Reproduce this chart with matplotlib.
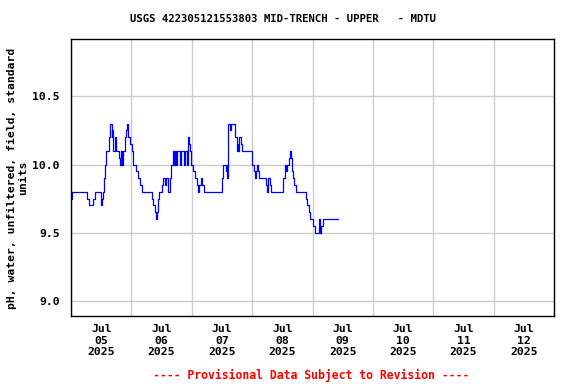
import datetime as dt
import matplotlib
matplotlib.use('Agg')
import matplotlib.pyplot as plt
import matplotlib.dates as mdates
from matplotlib.ticker import FixedLocator, FormatStrFormatter

# Readings (hours after 2025-07-05 00:00, pH value), stepped series
hours = [0.0, 0.4, 6.5, 7.3, 8.9, 9.4, 11.8, 12.2, 12.6, 13.0, 13.3, 13.6, 13.9,
         15.2, 15.5, 16.1, 16.4, 16.8, 17.5, 17.9, 19.2, 19.5, 20.0, 20.4, 20.8,
         21.3, 21.8, 22.3, 22.8, 23.6, 24.1, 24.8, 25.8, 26.5, 27.4, 28.1, 32.1,
         32.7, 33.2, 33.6, 34.0, 34.4, 34.7, 35.0, 36.0, 36.5, 37.5, 37.8, 38.5,
         39.2, 39.6, 40.5, 40.9, 41.3, 41.6, 42.0, 43.4, 43.9, 44.8, 45.4, 46.0,
         46.4, 47.0, 47.3, 47.9, 48.6, 49.2, 49.9, 50.5, 50.9, 51.5, 52.2, 52.7,
         59.9, 60.3, 61.5, 61.9, 62.1, 62.3, 62.5, 63.3, 63.6, 64.0, 65.2, 65.8,
         66.2, 66.5, 66.9, 67.5, 68.1, 72.0, 72.6, 73.1, 73.5, 73.9, 74.3, 74.8,
         77.7, 78.0, 78.3, 79.1, 79.6, 84.1, 84.4, 85.0, 85.5, 86.0, 86.6, 87.0,
         87.3, 87.7, 88.1, 88.8, 89.4, 93.4, 94.0, 94.8, 95.0, 96.3, 96.8, 98.4,
         98.8, 99.4, 100.1, 106.2]
ph = [9.75, 9.8, 9.75, 9.7, 9.75, 9.8, 9.7, 9.75, 9.8, 9.85, 9.9, 10.0, 10.1,
      10.2, 10.3, 10.2, 10.25, 10.1, 10.2, 10.1, 10.05, 10.0, 10.1, 10.0, 10.1,
      10.2, 10.25, 10.3, 10.2, 10.15, 10.1, 10.0, 9.95, 9.9, 9.85, 9.8, 9.75,
      9.7, 9.65, 9.6, 9.65, 9.7, 9.75, 9.8, 9.85, 9.9, 9.85, 9.9, 9.8,
      9.9, 10.0, 10.1, 10.0, 10.1, 10.0, 10.1, 10.0, 10.1, 10.0, 10.1, 10.0,
      10.2, 10.15, 10.1, 10.0, 9.95, 9.9, 9.85, 9.8, 9.85, 9.9, 9.85, 9.8,
      9.9, 10.0, 9.95, 10.0, 9.9, 10.05, 10.3, 10.25, 10.3, 10.3, 10.2, 10.1,
      10.15, 10.1, 10.2, 10.15, 10.1, 10.0, 9.95, 9.9, 9.95, 10.0, 9.95, 9.9,
      9.85, 9.8, 9.9, 9.85, 9.8, 9.85, 9.9, 10.0, 9.95, 10.0, 10.05, 10.1,
      10.05, 9.95, 9.9, 9.85, 9.8, 9.75, 9.7, 9.65, 9.6, 9.55, 9.5, 9.6,
      9.5, 9.55, 9.6, 9.6]

start = dt.datetime(2025, 7, 5)
end = dt.datetime(2025, 7, 13)
y_ticks = [9.0, 9.5, 10.0, 10.5]

title = 'USGS 422305121553803 MID-TRENCH - UPPER   - MDTU'
ylabel = 'pH, water, unfiltered, field, standard\nunits'
footer = '---- Provisional Data Subject to Revision ----'

times = [start + dt.timedelta(hours=h) for h in hours]

fig = plt.figure(figsize=(5.76, 3.84), dpi=100)
ax = fig.add_axes([71 / 576, 1 - 316 / 384, 483 / 576, 277 / 384])

ax.plot(times, ph, color='#0000ff', linewidth=0.9, drawstyle='steps-post')

ax.set_xlim(start, end)
ax.set_ylim(8.89, 10.92)

mono = 'DejaVu Sans Mono'

# gridlines at midnight, labels at noon
ax.xaxis.set_major_locator(mdates.DayLocator())
ax.xaxis.set_major_formatter(plt.NullFormatter())
ax.xaxis.set_minor_locator(mdates.HourLocator(byhour=12))
ax.xaxis.set_minor_formatter(mdates.DateFormatter('%b\n%d\n%Y'))
ax.yaxis.set_major_locator(FixedLocator(y_ticks))
ax.yaxis.set_major_formatter(FormatStrFormatter('%.1f'))

ax.grid(True, which='major', color='#cccccc', linewidth=1.0)
ax.set_axisbelow(True)
ax.tick_params(axis='both', which='both', length=0)
ax.tick_params(axis='x', which='minor', pad=6)
ax.tick_params(axis='y', pad=8)

for lab in ax.get_xticklabels(minor=True) + ax.get_yticklabels():
    lab.set_fontfamily(mono)
    lab.set_fontweight('bold')
    lab.set_fontsize(8.2)
    lab.set_linespacing(1.15)

for s in ax.spines.values():
    s.set_linewidth(1.0)
    s.set_color('black')

fig.text(283 / 576, 1 - 19 / 384, title, ha='center', va='center',
         family=mono, fontweight='bold', fontsize=7.7)
fig.text(18 / 576, 1 - 178 / 384, ylabel, rotation=90, ha='center', va='center',
         family=mono, fontweight='bold', fontsize=8.2, linespacing=1.15)
fig.text(311 / 576, 1 - 375 / 384, footer, ha='center', va='center',
         family=mono, fontweight='bold', fontsize=8.3, color='#ff0000')

fig.savefig('out.png', dpi=100)
